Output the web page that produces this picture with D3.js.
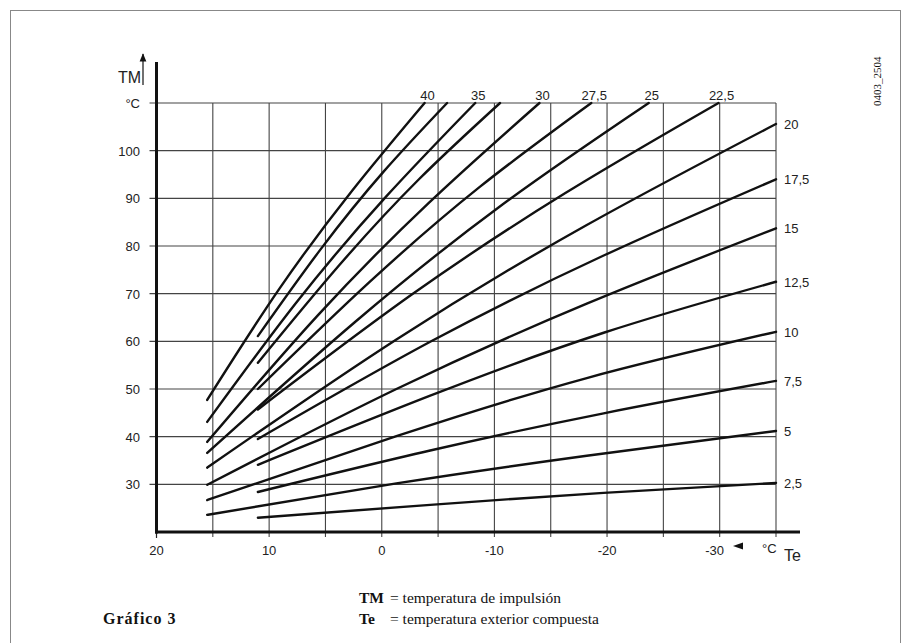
<!DOCTYPE html>
<html>
<head>
<meta charset="utf-8">
<script src="https://cdn.jsdelivr.net/npm/d3@7"></script>
<style>
  body { margin: 0; background: #fff; }
  svg { display: block; }
  .tick-label { font-family: "Liberation Sans", Arial, sans-serif; font-size: 13px; fill: #222; }
  .serif { font-family: "Liberation Serif", "Times New Roman", serif; fill: #111; }
</style>
</head>
<body>
<svg id="chart" width="901" height="643"></svg>
<script>
// Heating curves: label, outdoor temp Te points, flow temp TM points
const curveLabels = ['40', '37,5', '35', '32,5', '30', '27,5', '25', '22,5',
                     '20', '17,5', '15', '12,5', '10', '7,5', '5', '2,5'];
const curveTe = [
    [15.5, 9.1, 2.6, -3.8],
    [11, 5.4, -0.2, -5.8],
    [15.5, 7.6, -0.4, -8.3],
    [11, 3.8, -3.3, -10.5],
    [15.5, 5.7, -4.2, -14.0],
    [11, 1.1, -8.7, -18.6],
    [15.5, 2.4, -10.6, -23.7],
    [11, -2.6, -16.3, -29.9],
    [15.5, -1.3, -18.2, -35],
    [11, -4.3, -19.7, -35],
    [15.5, -1.3, -18.2, -35],
    [11, -4.3, -19.7, -35],
    [15.5, -1.3, -18.2, -35],
    [11, -4.3, -19.7, -35],
    [15.5, -1.3, -18.2, -35],
    [11, -4.3, -19.7, -35]
];
const curveTm = [
    [47.7, 71.0, 91.7, 110],
    [61.1, 79.4, 95.7, 110],
    [43.1, 68.1, 90.4, 110],
    [55.5, 75.9, 94.0, 110],
    [38.9, 65.4, 89.1, 110],
    [50.0, 72.4, 92.4, 110],
    [36.6, 64.0, 88.5, 110],
    [45.7, 69.7, 91.1, 110],
    [33.5, 60.4, 84.4, 105.6],
    [39.5, 59.9, 78.0, 94.0],
    [29.9, 50.0, 67.9, 83.7],
    [34.1, 48.6, 61.8, 72.5],
    [26.7, 40.1, 52.3, 62.0],
    [28.4, 37.1, 44.9, 51.7],
    [23.6, 30.2, 36.0, 41.2],
    [23.0, 25.7, 28.2, 30.3]
];
// labels drawn at top or at right end
const topLabels = ['40', '35', '30', '27,5', '25', '22,5'];
const rightLabels = ['20', '17,5', '15', '12,5', '10', '7,5', '5', '2,5'];

const xTicks = [20, 15, 10, 5, 0, -5, -10, -15, -20, -25, -30, -35];
const xTickLabels = ['20', '', '10', '', '0', '', '-10', '', '-20', '', '-30', ''];
const yTicks = [30, 40, 50, 60, 70, 80, 90, 100, 110];
const yTickLabels = ['30', '40', '50', '60', '70', '80', '90', '100', '°C'];

const svg = d3.select('#chart');

// page frame
svg.append('rect')
    .attr('x', 10.5).attr('y', 10.5)
    .attr('width', 890).attr('height', 640)
    .attr('fill', 'none').attr('stroke', '#888').attr('stroke-width', 1);

const x = d3.scaleLinear().domain([20, -35]).range([156.5, 776]);
const y = d3.scaleLinear().domain([20, 110]).range([532, 103]);

// grid
const grid = svg.append('g');
grid.selectAll('line.h')
    .data(yTicks)
    .enter().append('line')
    .attr('x1', x(20) - 7).attr('x2', x(-35))
    .attr('y1', d => y(d)).attr('y2', d => y(d))
    .attr('stroke', '#444').attr('stroke-width', 1.1);
grid.selectAll('line.v')
    .data(xTicks.slice(1))
    .enter().append('line')
    .attr('x1', d => x(d)).attr('x2', d => x(d))
    .attr('y1', y(110)).attr('y2', y(20) + 5)
    .attr('stroke', '#444').attr('stroke-width', 1.1);
// tick below axis at 20
grid.append('line')
    .attr('x1', x(20)).attr('x2', x(20))
    .attr('y1', y(20)).attr('y2', y(20) + 6)
    .attr('stroke', '#222').attr('stroke-width', 1.2);

// y axis labels
svg.append('g').selectAll('text')
    .data(yTicks)
    .enter().append('text')
    .attr('class', 'tick-label')
    .attr('x', 140)
    .attr('y', d => y(d) + 5)
    .attr('text-anchor', 'end')
    .text((d, i) => yTickLabels[i]);

// x axis labels
svg.append('g').selectAll('text')
    .data(xTicks)
    .enter().append('text')
    .attr('class', 'tick-label')
    .attr('x', d => x(d) - (d === -30 ? 5 : 0))
    .attr('y', 555)
    .attr('text-anchor', 'middle')
    .text((d, i) => xTickLabels[i]);

// heavy axes
svg.append('line')
    .attr('x1', x(20)).attr('x2', x(20))
    .attr('y1', 62).attr('y2', y(20) + 1.5)
    .attr('stroke', '#111').attr('stroke-width', 3);
svg.append('line')
    .attr('x1', x(20) - 1.5).attr('x2', 800)
    .attr('y1', y(20)).attr('y2', y(20))
    .attr('stroke', '#111').attr('stroke-width', 3);

// axis titles with arrows
svg.append('defs').append('marker')
    .attr('id', 'arrow')
    .attr('viewBox', '0 0 10 10')
    .attr('refX', 9).attr('refY', 5)
    .attr('markerWidth', 7).attr('markerHeight', 7)
    .attr('orient', 'auto-start-reverse')
    .append('path')
    .attr('d', 'M0,1 L10,5 L0,9 Z')
    .attr('fill', '#111');

svg.append('line')
    .attr('x1', 143).attr('x2', 143)
    .attr('y1', 85).attr('y2', 54)
    .attr('stroke', '#111').attr('stroke-width', 1.2)
    .attr('marker-end', 'url(#arrow)');
svg.append('text')
    .attr('class', 'tick-label')
    .attr('x', 141).attr('y', 83)
    .attr('text-anchor', 'end')
    .style('font-size', '16px')
    .text('TM');

svg.append('path')
    .attr('d', 'M733,546 L743,542.5 L743,549.5 Z')
    .attr('fill', '#111');
svg.append('text')
    .attr('class', 'tick-label')
    .attr('x', 762).attr('y', 553)
    .text('°C');
svg.append('text')
    .attr('class', 'tick-label')
    .attr('x', 784).attr('y', 561)
    .style('font-size', '16px')
    .text('Te');

// curves
const line = d3.line()
    .x(d => x(d[0]))
    .y(d => y(d[1]))
    .curve(d3.curveNatural);

const curves = curveLabels.map((label, i) => ({
    label: label,
    pts: curveTe[i].map((t, j) => [t, curveTm[i][j]])
}));

svg.append('g').selectAll('path')
    .data(curves)
    .enter().append('path')
    .attr('d', d => line(d.pts))
    .attr('fill', 'none')
    .attr('stroke', '#111')
    .attr('stroke-width', 2.4)
    .attr('stroke-linecap', 'round');

// curve labels at top
svg.append('g').selectAll('text')
    .data(curves.filter(c => topLabels.includes(c.label)))
    .enter().append('text')
    .attr('class', 'tick-label')
    .attr('x', d => x(d.pts[d.pts.length - 1][0]) + 3)
    .attr('y', 100)
    .attr('text-anchor', 'middle')
    .text(d => d.label);

// curve labels at right end
svg.append('g').selectAll('text')
    .data(curves.filter(c => rightLabels.includes(c.label)))
    .enter().append('text')
    .attr('class', 'tick-label')
    .attr('x', 784)
    .attr('y', d => y(d.pts[d.pts.length - 1][1]) + 5)
    .text(d => d.label);

// drawing number
svg.append('text')
    .attr('class', 'serif')
    .attr('transform', 'translate(881,106) rotate(-90)')
    .style('font-size', '11px')
    .text('0403_2504');

// footer legend
const foot = svg.append('g').attr('class', 'serif').style('font-size', '15.5px');
foot.append('text').attr('x', 359).attr('y', 603).style('font-weight', 'bold').text('TM');
foot.append('text').attr('x', 390).attr('y', 603).text('= temperatura de impulsión');
foot.append('text').attr('x', 359).attr('y', 624).style('font-weight', 'bold').text('Te');
foot.append('text').attr('x', 390).attr('y', 624).text('= temperatura exterior compuesta');
foot.append('text').attr('x', 103).attr('y', 624)
    .style('font-weight', 'bold').style('font-size', '16px').style('letter-spacing', '1px')
    .text('Gráfico 3');
</script>
</body>
</html>
